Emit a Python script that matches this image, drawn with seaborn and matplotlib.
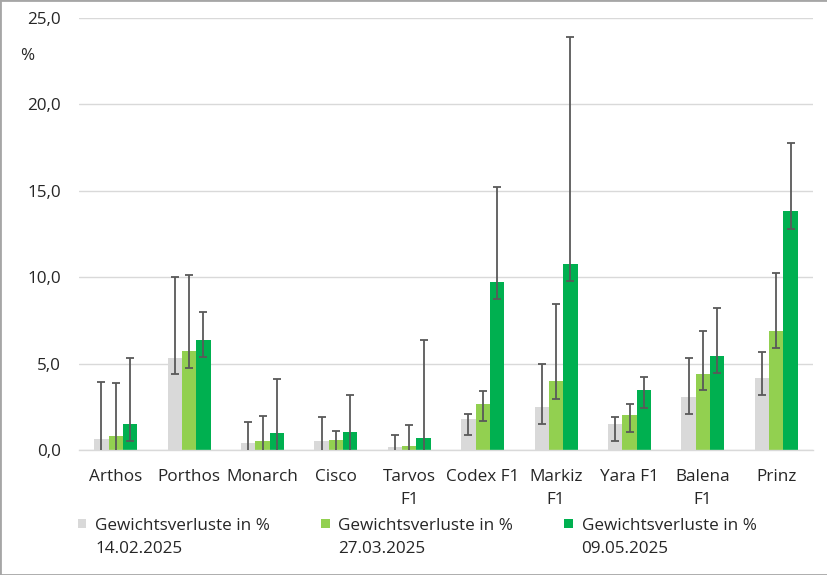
import numpy as np
import pandas as pd
import matplotlib
matplotlib.use("Agg")
import matplotlib.pyplot as plt
import seaborn as sns
from matplotlib.patches import Rectangle, Patch
from matplotlib.legend_handler import HandlerBase
from matplotlib.ticker import FuncFormatter

# ---------------- data ----------------
categories = ["Arthos", "Porthos", "Monarch", "Cisco", "Tarvos\nF1", "Codex F1",
              "Markiz\nF1", "Yara F1", "Balena\nF1", "Prinz"]
series = ["Gewichtsverluste in %\n14.02.2025",
          "Gewichtsverluste in %\n27.03.2025",
          "Gewichtsverluste in %\n09.05.2025"]

v1 = [0.64, 5.34, 0.43, 0.52, 0.19, 1.81, 2.49, 1.50, 3.09, 4.18]
v2 = [0.83, 5.75, 0.52, 0.58, 0.25, 2.64, 3.97, 2.04, 4.40, 6.89]
v3 = [1.50, 6.38, 0.96, 1.06, 0.68, 9.72, 10.74, 3.47, 5.44, 13.85]

# error bar bounds (lower, upper)
lo1 = [-2.67, 4.40, -0.76, -0.89, -0.49, 0.85, 1.50, 0.54, 2.10, 3.20]
hi1 = [3.95, 10.00, 1.62, 1.93, 0.87, 2.06, 4.98, 1.93, 5.30, 5.65]
lo2 = [-2.24, 4.75, -0.93, -0.10, -0.93, 1.66, 2.95, 1.06, 3.45, 5.90]
hi2 = [3.90, 10.13, 1.97, 1.10, 1.43, 3.40, 8.45, 2.66, 6.89, 10.26]
lo3 = [0.54, 5.40, -2.20, -1.08, -4.99, 8.74, 9.78, 2.45, 4.47, 12.81]
hi3 = [5.30, 7.97, 4.13, 3.20, 6.35, 15.24, 23.88, 4.22, 8.22, 17.78]

colors = ["#D9D9D9", "#92D050", "#00B050"]
yticks = [0, 5, 10, 15, 20, 25]

# ---------------- style ----------------
sns.set_theme(style="white")
plt.rcParams["font.family"] = ["Open Sans", "DejaVu Sans"]
FS = 12.3
TXT = "#262626"
LS = 1.57

W, H = 828, 575
fig = plt.figure(figsize=(W / 100, H / 100), dpi=100)
ax = fig.add_axes([79 / W, 1 - 450 / H, (813 - 79) / W, (450 - 18) / H])

df = pd.DataFrame({
    "Sorte": np.tile(categories, 3),
    "Serie": np.repeat(series, len(categories)),
    "Wert": np.concatenate([v1, v2, v3]),
})

sns.barplot(data=df, x="Sorte", y="Wert", hue="Serie", hue_order=series,
            order=categories, palette=colors, saturation=1, width=0.585,
            errorbar=None, linewidth=0, legend=False, ax=ax)

for cont, vals, lo, hi in zip(ax.containers, [v1, v2, v3], [lo1, lo2, lo3], [hi1, hi2, hi3]):
    xs = [p.get_x() + p.get_width() / 2 for p in cont]
    vals = np.array(vals); lo = np.array(lo); hi = np.array(hi)
    ax.errorbar(xs, vals, yerr=[vals - lo, hi - vals], fmt="none",
                ecolor="#595959", elinewidth=1.3, capsize=2.6, capthick=1.3,
                zorder=3)

ax.set_xlim(-0.5, len(categories) - 0.5)
ax.set_ylim(0, 25)
ax.set_yticks(yticks)
ax.yaxis.set_major_formatter(FuncFormatter(lambda v, p: f"{v:.1f}".replace(".", ",")))
ax.grid(axis="y", color="#D9D9D9", linewidth=1)
ax.grid(axis="x", visible=False)
ax.set_axisbelow(True)
for s in ["top", "right", "left"]:
    ax.spines[s].set_visible(False)
ax.spines["bottom"].set_color("#D9D9D9")
ax.spines["bottom"].set_linewidth(1)
ax.tick_params(axis="y", length=0, pad=13, labelsize=FS, labelcolor=TXT)
ax.tick_params(axis="x", length=0, pad=13.5, labelsize=FS, labelcolor=TXT)
for t in ax.get_xticklabels():
    t.set_linespacing(LS)
ax.set_xlabel("")
ax.set_ylabel("")

fig.text(27 / W, 1 - 56 / H, "%", ha="center", va="center", fontsize=FS, color=TXT)


class TopSquare(HandlerBase):
    def create_artists(self, legend, orig_handle, xdescent, ydescent, width,
                       height, fontsize, trans):
        s = 8.5 * 0.72
        y0 = 11.2
        r = Rectangle((-xdescent, y0), s, s, facecolor=orig_handle.get_facecolor(),
                      edgecolor="none", transform=trans)
        return [r]


handles = [Patch(facecolor=c) for c in colors]
leg = fig.legend(handles, series, loc="upper left",
                 bbox_to_anchor=(78 / W, 1 - 518 / H), ncol=3, frameon=False,
                 handler_map={Patch: TopSquare()}, handlelength=0.5,
                 handletextpad=0.5, columnspacing=3.0, borderpad=0,
                 borderaxespad=0, fontsize=FS)
for t in leg.get_texts():
    t.set_linespacing(LS)
    t.set_color(TXT)

fig.patches.append(Rectangle((0, 0), 1, 1, transform=fig.transFigure, fill=False,
                             edgecolor="#A6A6A6", linewidth=2))

fig.savefig("out.png", dpi=100)
